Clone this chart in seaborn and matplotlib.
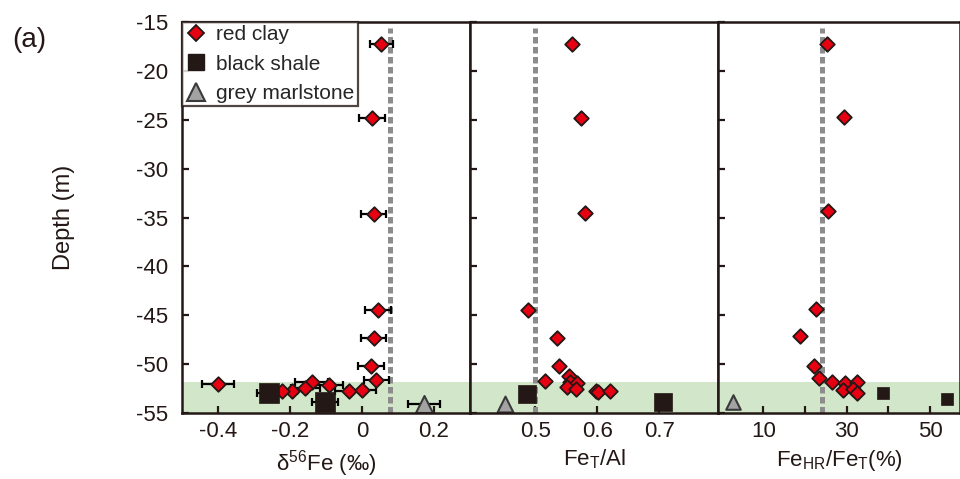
import numpy as np
import pandas as pd
import matplotlib
matplotlib.use("Agg")
import matplotlib.pyplot as plt
from matplotlib.lines import Line2D
import seaborn as sns

# ---- data ----
# panel 1: d56Fe (permil)
fe_red_depth = [-17.3, -24.8, -34.6, -44.5, -47.3, -50.2, -51.6, -51.8, -52.05, -52.1, -52.45, -52.8, -52.8, -52.8, -52.6]
fe_red_val = [0.054, 0.027, 0.033, 0.044, 0.033, 0.026, 0.040, -0.140, -0.400, -0.092, -0.158, -0.194, -0.221, -0.036, -0.001]
fe_red_err = [0.033, 0.036, 0.035, 0.036, 0.035, 0.036, 0.035, 0.045, 0.044, 0.040, 0.040, 0.040, 0.040, 0.040, 0.040]
fe_blk_depth = [-52.95, -53.9]
fe_blk_val = [-0.258, -0.104]
fe_blk_err = [0.033, 0.036]
fe_gry_depth = [-54.1]
fe_gry_val = [0.172]
fe_gry_err = [0.045]

# panel 2: FeT/Al
al_red_depth = [-17.3, -24.85, -34.5, -44.5, -47.3, -50.2, -51.2, -51.7, -51.8, -51.95, -52.3, -52.5, -52.7, -52.9, -52.8]
al_red_val = [0.559, 0.574, 0.581, 0.489, 0.535, 0.539, 0.554, 0.516, 0.556, 0.567, 0.551, 0.566, 0.598, 0.602, 0.621]
al_blk_depth = [-53.1, -53.9]
al_blk_val = [0.487, 0.707]
al_gry_depth = [-54.05]
al_gry_val = [0.452]

# panel 3: FeHR/FeT (%)
hr_red_depth = [-17.2, -24.75, -34.3, -44.4, -47.1, -50.2, -51.4, -51.8, -51.95, -51.8, -52.6, -52.55, -52.95]
hr_red_val = [25.3, 29.4, 25.5, 22.6, 18.8, 22.2, 23.3, 26.5, 29.6, 32.4, 29.2, 31.6, 32.4]
hr_blk_depth = [-52.95, -53.6]
hr_blk_val = [38.8, 54.1]
hr_gry_depth = [-53.9]
hr_gry_val = [2.8]

ref_lines = [0.077, 0.5, 24]
depth_ticks = [-15, -20, -25, -30, -35, -40, -45, -50, -55]

RED = "#e60012"
BLK = "#231815"
GRY = "#a3a3a3"
GREEN = "#d2e7c9"

sns.set_style("ticks")
plt.rcParams["font.family"] = ["Liberation Sans", "DejaVu Sans"]
plt.rcParams["mathtext.fontset"] = "custom"
plt.rcParams["mathtext.rm"] = "Liberation Sans"
plt.rcParams["mathtext.it"] = "Liberation Sans:italic"

fig = plt.figure(figsize=(9.6, 4.79), dpi=100)
bottom, height = 1 - 413 / 479, (413 - 22) / 479
ax1 = fig.add_axes([182 / 960, bottom, 288 / 960, height])
ax2 = fig.add_axes([470 / 960, bottom, 248 / 960, height])
ax3 = fig.add_axes([718 / 960, bottom, 242 / 960, height])
axes = [ax1, ax2, ax3]


def draw(ax, red_v, red_d, blk_v, blk_d, gry_v, gry_d, ref, sq, tri):
    ax.axhspan(-55, -51.8, color=GREEN, lw=0, zorder=0)
    ax.axvline(ref, ymin=0, ymax=0.985, color="#8c8c8c", lw=3.6, ls=(0, (1.3, 0.7)), zorder=1)
    sns.scatterplot(x=red_v, y=red_d, ax=ax, marker="D", s=55, color=RED,
                    edgecolor=BLK, linewidth=1.3, zorder=4)
    sns.scatterplot(x=blk_v, y=blk_d, ax=ax, marker="s", s=sq, color=BLK,
                    edgecolor=BLK, linewidth=0.5, zorder=4)
    sns.scatterplot(x=gry_v, y=gry_d, ax=ax, marker="^", s=tri, color=GRY,
                    edgecolor="#3a3a3a", linewidth=1.5, zorder=4)


# error bars on the iron isotope panel
ax1.errorbar(fe_red_val, fe_red_depth, xerr=fe_red_err, fmt="none", ecolor="black",
             elinewidth=1.6, capsize=3, capthick=1.6, zorder=3)
ax1.errorbar(fe_blk_val, fe_blk_depth, xerr=fe_blk_err, fmt="none", ecolor="black",
             elinewidth=1.6, capsize=3, capthick=1.6, zorder=3)
ax1.errorbar(fe_gry_val, fe_gry_depth, xerr=fe_gry_err, fmt="none", ecolor="black",
             elinewidth=1.6, capsize=3, capthick=1.6, zorder=3)

draw(ax1, fe_red_val, fe_red_depth, fe_blk_val, fe_blk_depth, fe_gry_val, fe_gry_depth,
     ref_lines[0], 190, 150)
draw(ax2, al_red_val, al_red_depth, al_blk_val, al_blk_depth, al_gry_val, al_gry_depth,
     ref_lines[1], 150, 130)
draw(ax3, hr_red_val, hr_red_depth, hr_blk_val, hr_blk_depth, hr_gry_val, hr_gry_depth,
     ref_lines[2], 80, 110)

ax1.set_xlim(-0.5, 0.3)
ax1.set_xticks([-0.4, -0.2, 0, 0.2])
ax1.set_xticklabels(["-0.4", "-0.2", "0", "0.2"])
ax2.set_xlim(0.395, 0.795)
ax2.set_xticks([0.5, 0.6, 0.7])
ax3.set_xlim(-0.9, 57.2)
ax3.set_xticks([10, 20, 30, 40, 50])
ax3.set_xticklabels(["10", "", "30", "", "50"])

for ax in axes:
    ax.set_ylim(-55, -15)
    ax.set_yticks(depth_ticks)
    ax.tick_params(direction="in", length=5, width=1.6, labelsize=16, colors=BLK)
    ax.tick_params(axis="y", pad=10)
    ax.tick_params(axis="x", pad=6)
    for sp in ax.spines.values():
        sp.set_linewidth(1.8)
        sp.set_color(BLK)
        sp.set_zorder(5)
    ax.set_ylabel("")
ax1.set_yticklabels([str(t) for t in depth_ticks])
ax2.set_yticklabels([])
ax3.set_yticklabels([])

lab_kw = dict(fontsize=16, color=BLK, labelpad=4)
ax1.set_xlabel("δ$^{\\mathregular{56}}$Fe (‰)", **lab_kw)
ax2.set_xlabel("Fe$_{\\mathregular{T}}$/Al", **lab_kw)
ax3.set_xlabel("Fe$_{\\mathregular{HR}}$/Fe$_{\\mathregular{T}}$(%)", **lab_kw)
ax1.set_ylabel("Depth (m)", fontsize=17, color=BLK)
ax1.yaxis.set_label_coords(-0.37, 0.5)

fig.text(12 / 960, 1 - 40 / 479, "(a)", fontsize=20, color=BLK, va="center", ha="left")

handles = [
    Line2D([], [], marker="D", ls="none", ms=8, mfc=RED, mec=BLK, mew=1.3),
    Line2D([], [], marker="s", ls="none", ms=11, mfc=BLK, mec=BLK),
    Line2D([], [], marker="^", ls="none", ms=13, mfc=GRY, mec="#3a3a3a", mew=1.5),
]
leg = ax1.legend(handles, ["red clay", "black shale", "grey marlstone"], loc="upper left",
                 bbox_to_anchor=(0, 1), borderaxespad=0, fontsize=15, frameon=True,
                 fancybox=False, edgecolor=BLK, handlelength=1.0, handletextpad=0.5,
                 labelspacing=0.5, borderpad=0.15)
leg.get_frame().set_linewidth(1.6)
leg.set_zorder(6)

fig.savefig("out.png", dpi=100)
